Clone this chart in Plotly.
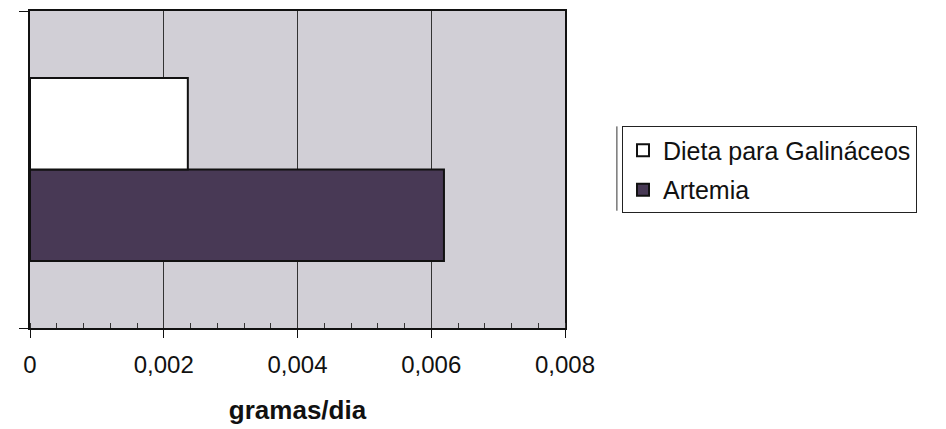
import plotly.graph_objects as go

# Data: daily weight gain per diet (grams/day)
category = [""]
series_names = ["Dieta para Galináceos", "Artemia"]
dieta_values = [0.00236]
artemia_values = [0.00619]
x_tick_values = [0, 0.002, 0.004, 0.006, 0.008]
x_tick_labels = ["0", "0,002", "0,004", "0,006", "0,008"]
x_title = "gramas/dia"

FONT = "Arial, Liberation Sans, sans-serif"
PLOT_BG = "#d1cfd6"
ARTEMIA_COLOR = "#483955"

fig = go.Figure()

# Horizontal grouped bars: first trace sits at the bottom of the group
fig.add_trace(go.Bar(
    name=series_names[1], y=category, x=artemia_values, orientation="h",
    marker=dict(color=ARTEMIA_COLOR, line=dict(color="#111111", width=2)),
    legendgroup="b", legendrank=2,
))
fig.add_trace(go.Bar(
    name=series_names[0], y=category, x=dieta_values, orientation="h",
    marker=dict(color="white", line=dict(color="#111111", width=2)),
    legendgroup="a", legendrank=1,
))

fig.update_layout(
    width=946, height=429,
    margin=dict(l=30, r=381, t=9, b=101),
    paper_bgcolor="white",
    plot_bgcolor=PLOT_BG,
    barmode="group",
    bargap=0.423,
    bargroupgap=0,
    font=dict(family=FONT, color="#111111"),
    showlegend=True,
    legend=dict(
        x=1.1065, xanchor="left", y=0.636, yanchor="top",
        traceorder="grouped", tracegroupgap=4,
        font=dict(size=25, family=FONT, color="#111111"),
        bgcolor="white", bordercolor="#222222", borderwidth=1,
    ),
    xaxis=dict(
        range=[0, 0.008],
        tickvals=x_tick_values, ticktext=x_tick_labels,
        tickfont=dict(size=24, family=FONT),
        ticks="outside", ticklen=8, tickcolor="#111111", tickwidth=1,
        ticklabelstandoff=6,
        showgrid=True, gridcolor="#333333", gridwidth=1,
        minor=dict(ticks="inside", dtick=0.0004, ticklen=5,
                   tickcolor="#333333", showgrid=False),
        showline=True, linecolor="#111111", linewidth=2, mirror=True,
        zeroline=False,
        title=dict(text="<b>" + x_title + "</b>",
                   font=dict(size=26, family=FONT), standoff=24),
    ),
    yaxis=dict(
        type="category",
        tickson="boundaries", ticks="outside", ticklen=9,
        tickcolor="#111111", showticklabels=False,
        showgrid=False,
        showline=True, linecolor="#111111", linewidth=2, mirror=True,
    ),
)

# Second rule along the legend's left edge
fig.add_shape(type="line", xref="paper", yref="paper",
              x0=1.097, x1=1.097, y0=0.37, y1=0.636,
              line=dict(color="#333333", width=1))

fig.write_html("out.html")
